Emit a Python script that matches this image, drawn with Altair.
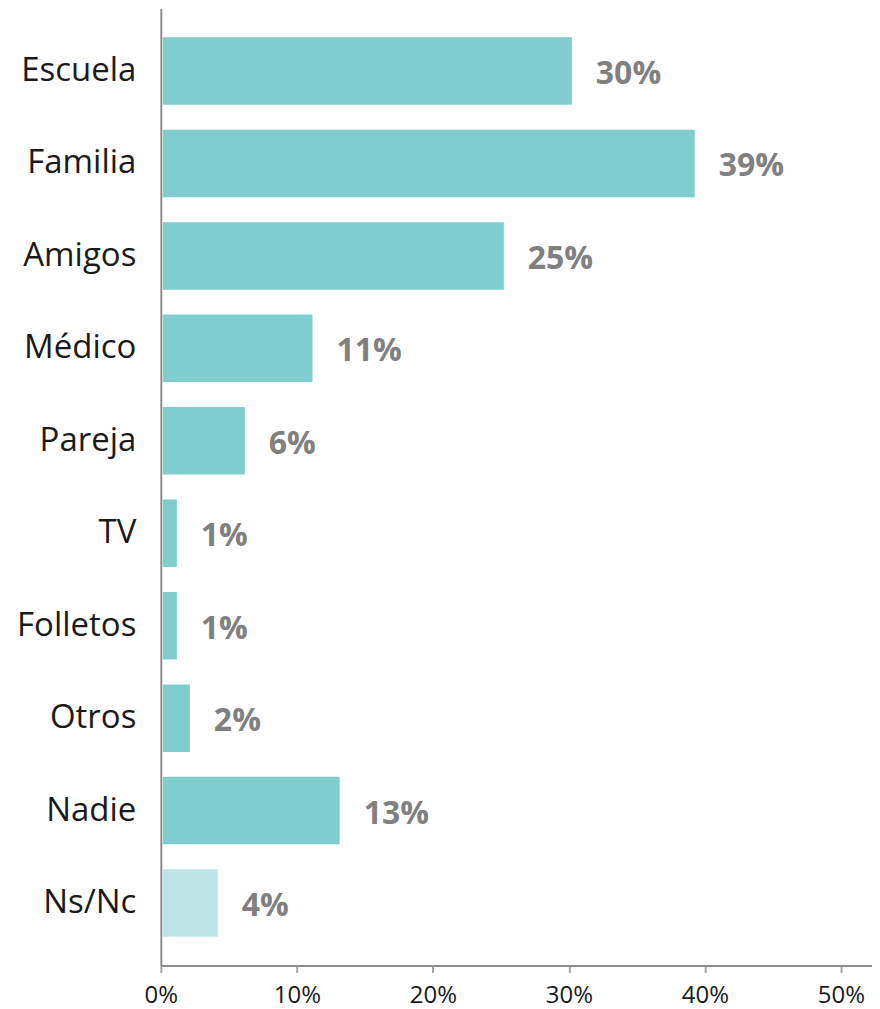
import altair as alt
import pandas as pd

categories = ["Escuela", "Familia", "Amigos", "Médico", "Pareja", "TV",
              "Folletos", "Otros", "Nadie", "Ns/Nc"]
values = [0.3007, 0.391, 0.2507, 0.110, 0.0603, 0.0103, 0.0103, 0.0199, 0.130, 0.0404]
groups = ["main"] * 9 + ["nsnc"]
tick_values = [0, 0.1, 0.2, 0.3, 0.4, 0.5]

df = pd.DataFrame({"cat": categories, "val": values, "grp": groups})

FONT = "Open Sans"

y_enc = alt.Y("cat:N", sort=categories, title=None,
              scale=alt.Scale(paddingInner=0.27, paddingOuter=0.31),
              axis=alt.Axis(ticks=False, labelPadding=25, labelFontSize=33,
                            labelFont=FONT, labelColor="#1a1a1a",
                            domainColor="#8c8c8c", domainWidth=2,
                            labelLimit=300))
x_enc = alt.X("val:Q", title=None,
              scale=alt.Scale(domain=[0, 0.5228], nice=False, zero=True),
              axis=alt.Axis(values=tick_values, format=".0%", grid=False,
                            labelFontSize=24, labelFont=FONT, labelColor="#1a1a1a",
                            labelFlush=False,
                            tickSize=7, tickColor="#a6a6a6", tickWidth=2,
                            domainColor="#8c8c8c", domainWidth=2,
                            labelPadding=11))

bars = alt.Chart(df).mark_bar(xOffset=2).encode(
    y=y_enc, x=x_enc,
    color=alt.Color("grp:N", legend=None,
                    scale=alt.Scale(domain=["main", "nsnc"],
                                    range=["#7fcdcd", "#bde5e5"])),
)

labels = alt.Chart(df).mark_text(
    align="left", baseline="middle", dx=26, dy=3,
    font=FONT, fontSize=32, fontWeight="bold", color="#808080",
).encode(
    y=alt.Y("cat:N", sort=categories),
    x=alt.X("val:Q"),
    text=alt.Text("val:Q", format=".0%"),
)

chart = (bars + labels).properties(
    width=712, height=958,
    autosize=alt.AutoSizeParams(type="none"),
    padding={"left": 153, "top": 0, "right": 0, "bottom": 46},
).configure_view(stroke=None)

chart.save("out.html", embed_options={"renderer": "svg", "actions": False})
